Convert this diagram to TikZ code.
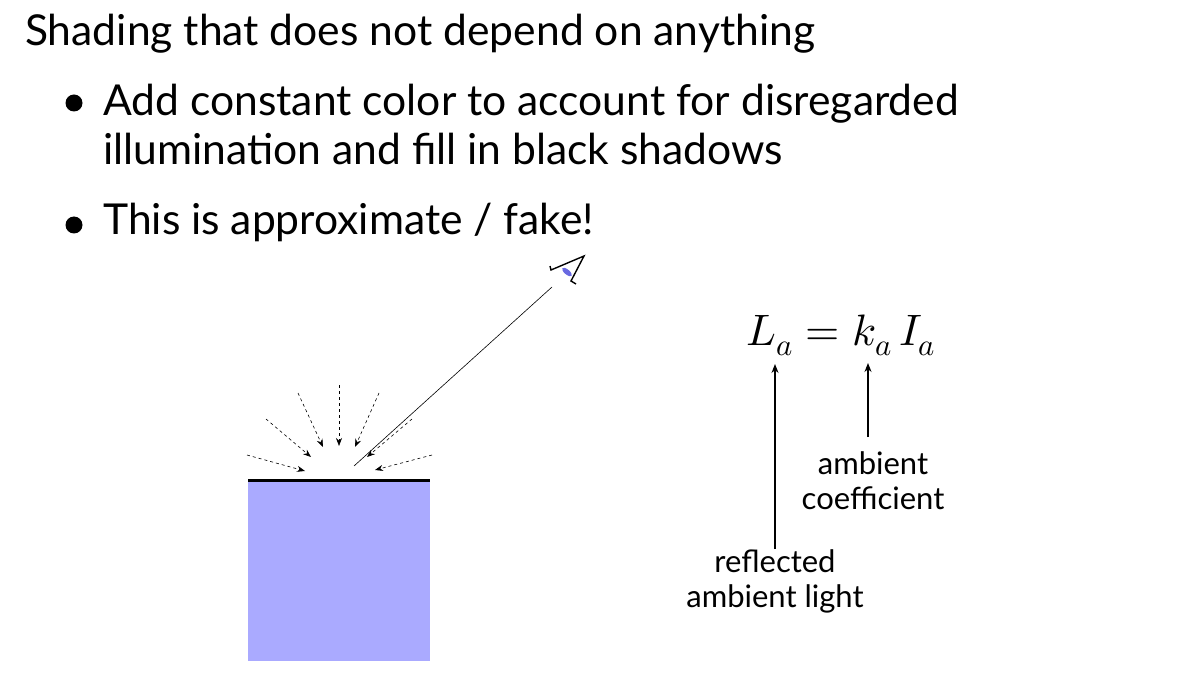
\documentclass[tikz,border=0pt]{standalone}
\usepackage{amsmath}
\usepackage{fontspec}
\usepackage{unicode-math}
\setmainfont{Lato}
\setmathfont{Latin Modern Math}
\usetikzlibrary{arrows.meta,positioning,calc}

\definecolor{boxblue}{RGB}{170,170,255}
\definecolor{lensblue}{RGB}{105,105,225}

\begin{document}
\begin{tikzpicture}[x=1pt,y=-1pt,
  slide/.style={anchor=base west,inner sep=0pt,font=\fontsize{42.6}{50}\selectfont},
  bullet/.style={circle,fill,inner sep=0pt,minimum size=17pt},
  note/.style={anchor=north,align=center,inner sep=0pt,font=\fontsize{31}{35}\selectfont},
  ray/.style={dash pattern=on 3pt off 3pt,line width=0.6pt,-{Stealth[length=8pt,width=6pt]}},
  eqarrow/.style={line width=1.3pt,-{Stealth[length=9pt,width=7pt]}}]
\useasboundingbox (0,0) rectangle (1181,676);
% slide text
\node[slide] (title) at (25,46) {Shading that does not depend on anything};
\node[bullet] (dotA) at (74,103) {};
\node[slide] (addA) at (103,116) {Add constant color to account for disregarded};
\node[slide] (addB) at (103,165) {illumination and fill in black shadows};
\node[bullet] (dotB) at (74,225) {};
\node[slide] (fake) at (103,235) {This is approximate / fake!};
% surface
\fill[boxblue] (248,481) rectangle (430,661);
\draw[line width=3pt] (248,480)--(430,480);
\foreach \sx/\sy/\ex/\ey in {247/455/305/471, 266/419/311/457, 298/393/323/447,
  339/385/339/446, 379/393/355/447, 412/419/367/457, 432/455/375/470}
  {\draw[ray] (\sx,\sy)--(\ex,\ey);}
% viewer
\draw[line width=0.6pt] (354,466)--(552,287);
\draw[line width=1.4pt,line join=miter] (550,266)--(551,270)--(584,256)--(571,281)--(576,284);
\fill[lensblue,rotate around={-40:(567,272)}] (567,272) ellipse (6 and 2.5);
% equation
\node[anchor=base,inner sep=0pt,font=\fontsize{44}{52}\selectfont] (eq) at (841,345) {$L_a = k_a\, I_a$};
\coordinate (La) at (775,364);
\coordinate (ka) at (868,363);
\coordinate (coefTop) at (868,437);
\node[note] (coef) at (873,451) {ambient\\coefficient};
\node[note] (refl) at (775,549) {reflected\\ambient light};
\draw[eqarrow] (refl.north)--(La);
\draw[eqarrow] (coefTop)--(ka);
\end{tikzpicture}
\end{document}
